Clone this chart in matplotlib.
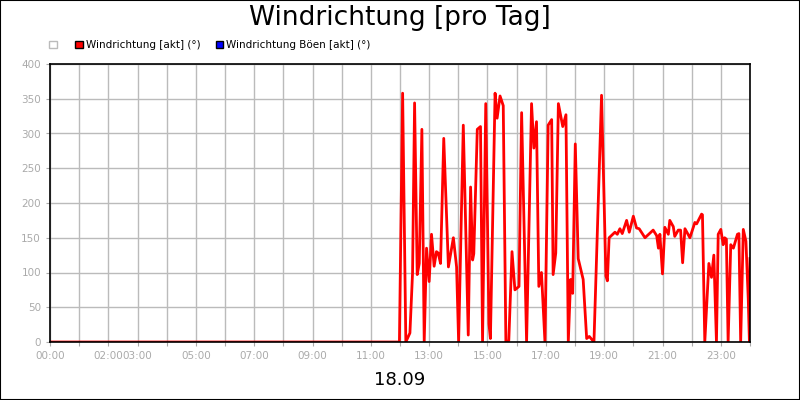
import matplotlib
matplotlib.use("Agg")
import matplotlib.pyplot as plt
from matplotlib.patches import Patch, Rectangle

hours = [0, 11.98, 12.09, 12.2, 12.34, 12.43, 12.5, 12.59, 12.66, 12.75, 12.83, 12.91, 13.0, 13.08, 13.17,
         13.25, 13.31, 13.39, 13.5, 13.66, 13.83, 13.94, 14.01, 14.17, 14.34, 14.42, 14.49, 14.53, 14.65,
         14.76, 14.83, 14.94, 15.05, 15.1, 15.26, 15.33, 15.43, 15.54, 15.63, 15.73, 15.84, 15.94, 16.08,
         16.17, 16.34, 16.51, 16.59, 16.68, 16.76, 16.85, 16.97, 17.08, 17.2, 17.25, 17.34, 17.43, 17.58,
         17.69, 17.77, 17.85, 17.92, 18.01, 18.11, 18.28, 18.4, 18.49, 18.65, 18.91, 19.06, 19.11, 19.17,
         19.37, 19.45, 19.54, 19.62, 19.77, 19.86, 20.0, 20.11, 20.2, 20.4, 20.68, 20.8, 20.86, 20.91,
         21.0, 21.08, 21.2, 21.25, 21.37, 21.42, 21.54, 21.62, 21.69, 21.77, 21.94, 22.11, 22.17, 22.34,
         22.37, 22.45, 22.59, 22.68, 22.76, 22.85, 22.91, 23.0, 23.08, 23.13, 23.19, 23.25, 23.34, 23.43,
         23.57, 23.62, 23.68, 23.77, 23.86, 23.94, 23.98, 24.0]
wind_dir = [0, 0, 358, 0, 13, 99, 344, 97, 113, 306, 0, 135, 87, 155, 109,
            130, 128, 113, 293, 108, 150, 108, 0, 312, 10, 223, 118, 127, 306,
            310, 0, 343, 26, 5, 358, 322, 354, 340, 0, 2, 130, 75, 80,
            330, 0, 343, 279, 317, 80, 100, 0, 312, 320, 97, 128, 343, 310,
            327, 0, 90, 70, 285, 120, 90, 5, 8, 0, 355, 95, 88, 150,
            158, 155, 163, 156, 175, 158, 181, 164, 163, 150, 161, 153, 135, 155,
            98, 165, 155, 175, 166, 152, 161, 161, 114, 163, 150, 172, 170, 184,
            183, 0, 113, 93, 125, 0, 155, 162, 140, 150, 148, 0, 140, 135,
            155, 156, 0, 162, 145, 62, 0, 120]
tick_hours = [0, 2, 3, 5, 7, 9, 11, 13, 15, 17, 19, 21, 23]
y_ticks = [0, 50, 100, 150, 200, 250, 300, 350, 400]

fig = plt.figure(figsize=(8, 4), dpi=100)
fig.patches.append(Rectangle((0, 0), 1, 1, transform=fig.transFigure, fill=False,
                             edgecolor='black', linewidth=1.5))
ax = fig.add_axes([0.0625, 0.145, 0.875, 0.695])
ax.plot(hours, wind_dir, color='#ff0000', linewidth=2)
ax.set_xlim(0, 24)
ax.set_ylim(0, 400)
ax.set_xticks(range(0, 25))
ax.set_xticklabels([f"{h:02d}:00" if h in tick_hours else "" for h in range(0, 25)])
ax.set_yticks(y_ticks)
ax.grid(True, color='#bbbbbb', linewidth=1)
ax.set_axisbelow(True)
ax.tick_params(colors='#aaaaaa', labelsize=7.5, length=3, labelcolor='#aaaaaa')
for s in ax.spines.values():
    s.set_color('black')
    s.set_linewidth(1.2)

fig.text(0.5, 0.955, "Windrichtung [pro Tag]", ha='center', va='center', fontsize=19)
fig.text(0.5, 0.05, "18.09", ha='center', va='center', fontsize=13)
handles = [Patch(facecolor='none', edgecolor='#bbbbbb'),
           Patch(facecolor='#ff0000', edgecolor='black'),
           Patch(facecolor='#0000ff', edgecolor='black')]
fig.legend(handles, ["", "Windrichtung [akt] (°)", "Windrichtung Böen [akt] (°)"],
           loc='center left', bbox_to_anchor=(0.05, 0.888), ncol=3, frameon=False,
           fontsize=7.5, handlelength=0.7, handleheight=0.7, handletextpad=0.3, columnspacing=1.5)
fig.savefig("out.png", dpi=100)
